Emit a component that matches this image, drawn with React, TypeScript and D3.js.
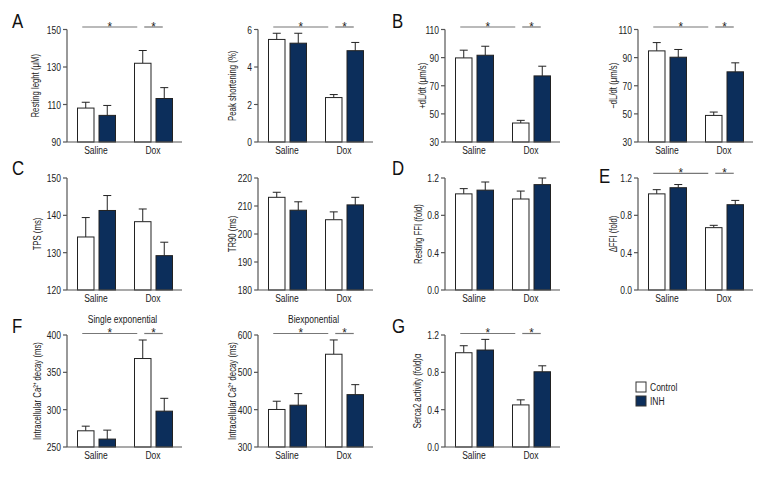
import React from "react";
import * as d3 from "d3";

const groups = ["Saline", "Dox"];
const seriesNames = ["Control", "INH"];

// values: [Saline, Dox]
const restLenCtrl = [108.1, 132.0];
const restLenCtrlErr = [3.1, 6.8];
const restLenInh = [104.2, 113.2];
const restLenInhErr = [5.3, 5.8];

const peakCtrl = [5.47, 2.37];
const peakCtrlErr = [0.33, 0.16];
const peakInh = [5.27, 4.87];
const peakInhErr = [0.53, 0.44];

const plusDlCtrl = [89.8, 43.5];
const plusDlCtrlErr = [5.5, 1.9];
const plusDlInh = [91.7, 77.0];
const plusDlInhErr = [6.4, 6.9];

const minusDlCtrl = [94.8, 48.9];
const minusDlCtrlErr = [5.9, 2.4];
const minusDlInh = [90.3, 79.9];
const minusDlInhErr = [5.5, 6.4];

const tpsCtrl = [134.2, 138.3];
const tpsCtrlErr = [5.2, 3.4];
const tpsInh = [141.3, 129.2];
const tpsInhErr = [4.0, 3.6];

const tr90Ctrl = [213.1, 205.1];
const tr90CtrlErr = [1.8, 2.8];
const tr90Inh = [208.5, 210.4];
const tr90InhErr = [3.0, 2.7];

const restFfiCtrl = [1.03, 0.975];
const restFfiCtrlErr = [0.056, 0.085];
const restFfiInh = [1.07, 1.129];
const restFfiInhErr = [0.087, 0.071];

const dFfiCtrl = [1.03, 0.668];
const dFfiCtrlErr = [0.045, 0.025];
const dFfiInh = [1.096, 0.914];
const dFfiInhErr = [0.034, 0.046];

const singleCtrl = [271.7, 368.5];
const singleCtrlErr = [6.2, 24.8];
const singleInh = [260.6, 298.0];
const singleInhErr = [12.0, 17.2];

const biCtrl = [400.5, 548.5];
const biCtrlErr = [22.1, 38.2];
const biInh = [412.0, 440.3];
const biInhErr = [31.0, 26.7];

const sercaCtrl = [1.01, 0.451];
const sercaCtrlErr = [0.075, 0.054];
const sercaInh = [1.039, 0.806];
const sercaInhErr = [0.114, 0.064];

const ticksRestLen = [90, 110, 130, 150];
const ticksPeak = [0, 2, 4, 6];
const ticksDl = [30, 50, 70, 90, 110];
const ticksTps = [120, 130, 140, 150];
const ticksTr90 = [180, 190, 200, 210, 220];
const ticksFold = [0, 0.4, 0.8, 1.2];
const ticksSingle = [250, 300, 350, 400];
const ticksBi = [300, 400, 500, 600];

const NAVY = "#0c2e5b";
const FONT = "'Liberation Sans', Arial, sans-serif";
const TEXT = "#222";
const AXIS = "#555";
const SX = 0.74;

const colX = [67, 258, 445, 638];
const rowY = [
  [29.5, 142],
  [178, 290],
  [335, 447],
];

type PanelDef = {
  ylabel: string;
  ctrl: number[];
  ctrlErr: number[];
  inh: number[];
  inhErr: number[];
  ticks: number[];
  fmt: (v: number) => string;
  col: number;
  row: number;
  sig: boolean;
  sigDy: number;
  labelDx: number;
  title?: string;
};

const f0 = (v: number) => d3.format("d")(v);
const f1 = (v: number) => d3.format(".1f")(v);

const panels: PanelDef[] = [
  { ylabel: "Resting leght (\u03bcM)", ctrl: restLenCtrl, ctrlErr: restLenCtrlErr, inh: restLenInh, inhErr: restLenInhErr, ticks: ticksRestLen, fmt: f0, col: 0, row: 0, sig: true, sigDy: 2.5, labelDx: 32 },
  { ylabel: "Peak shortening (%)", ctrl: peakCtrl, ctrlErr: peakCtrlErr, inh: peakInh, inhErr: peakInhErr, ticks: ticksPeak, fmt: f0, col: 1, row: 0, sig: true, sigDy: 2.5, labelDx: 26 },
  { ylabel: "+dL/dt (\u03bcm/s)", ctrl: plusDlCtrl, ctrlErr: plusDlCtrlErr, inh: plusDlInh, inhErr: plusDlInhErr, ticks: ticksDl, fmt: f0, col: 2, row: 0, sig: true, sigDy: 2.5, labelDx: 23 },
  { ylabel: "\u2212dL/dt (\u03bcm/s)", ctrl: minusDlCtrl, ctrlErr: minusDlCtrlErr, inh: minusDlInh, inhErr: minusDlInhErr, ticks: ticksDl, fmt: f0, col: 3, row: 0, sig: true, sigDy: 2.5, labelDx: 25 },
  { ylabel: "TPS (ms)", ctrl: tpsCtrl, ctrlErr: tpsCtrlErr, inh: tpsInh, inhErr: tpsInhErr, ticks: ticksTps, fmt: f0, col: 0, row: 1, sig: false, sigDy: 0, labelDx: 30 },
  { ylabel: "TR90 (ms)", ctrl: tr90Ctrl, ctrlErr: tr90CtrlErr, inh: tr90Inh, inhErr: tr90InhErr, ticks: ticksTr90, fmt: f0, col: 1, row: 1, sig: false, sigDy: 0, labelDx: 26 },
  { ylabel: "Resting FFI (fold)", ctrl: restFfiCtrl, ctrlErr: restFfiCtrlErr, inh: restFfiInh, inhErr: restFfiInhErr, ticks: ticksFold, fmt: f1, col: 2, row: 1, sig: false, sigDy: 0, labelDx: 27 },
  { ylabel: "\u0394FFI (fold)", ctrl: dFfiCtrl, ctrlErr: dFfiCtrlErr, inh: dFfiInh, inhErr: dFfiInhErr, ticks: ticksFold, fmt: f1, col: 3, row: 1, sig: true, sigDy: 4.7, labelDx: 25 },
  { ylabel: "Intracellular Ca\u00b2\u207a decay (ms)", ctrl: singleCtrl, ctrlErr: singleCtrlErr, inh: singleInh, inhErr: singleInhErr, ticks: ticksSingle, fmt: f0, col: 0, row: 2, sig: true, sigDy: 1.5, labelDx: 30, title: "Single exponential" },
  { ylabel: "Intracellular Ca\u00b2\u207a decay (ms)", ctrl: biCtrl, ctrlErr: biCtrlErr, inh: biInh, inhErr: biInhErr, ticks: ticksBi, fmt: f0, col: 1, row: 2, sig: true, sigDy: 1.5, labelDx: 25.5, title: "Biexponential" },
  { ylabel: "Serca2 activity (fold)\u03b1", ctrl: sercaCtrl, ctrlErr: sercaCtrlErr, inh: sercaInh, inhErr: sercaInhErr, ticks: ticksFold, fmt: f1, col: 2, row: 2, sig: true, sigDy: 1.5, labelDx: 28 },
];

const letters = [
  { t: "A", x: 12, y: 28 },
  { t: "B", x: 392, y: 28 },
  { t: "C", x: 12, y: 175 },
  { t: "D", x: 392, y: 175 },
  { t: "E", x: 599, y: 183 },
  { t: "F", x: 12, y: 333 },
  { t: "G", x: 392, y: 333 },
];

function T({
  x,
  y,
  size,
  anchor = "start",
  rotate = 0,
  dy,
  fill = TEXT,
  sx = SX,
  children,
}: {
  x: number;
  y: number;
  size: number;
  anchor?: string;
  rotate?: number;
  dy?: string;
  fill?: string;
  sx?: number;
  children: React.ReactNode;
}) {
  return (
    <text
      transform={`translate(${x},${y}) rotate(${rotate}) scale(${sx},1)`}
      textAnchor={anchor}
      dy={dy}
      fontSize={size}
      fill={fill}
    >
      {children}
    </text>
  );
}

function Panel({ p }: { p: PanelDef }) {
  const ax = colX[p.col];
  const [top, bottom] = rowY[p.row];
  const x0 = d3.scaleBand<string>().domain(groups).range([ax + 1, ax + 115]);
  const x1 = d3.scaleBand<string>().domain(seriesNames).range([9.5, 47.5]).paddingInner(0.233);
  const bw = x1.bandwidth();
  const ext = d3.extent(p.ticks) as [number, number];
  const y = d3.scaleLinear().domain(ext).range([bottom, top]);
  const bars: { g: string; s: string; v: number; e: number }[] = [];
  groups.forEach((g, i) => {
    bars.push({ g, s: "Control", v: p.ctrl[i], e: p.ctrlErr[i] });
    bars.push({ g, s: "INH", v: p.inh[i], e: p.inhErr[i] });
  });
  const center = (g: string, s: string) => (x0(g) as number) + (x1(s) as number) + bw / 2;
  const cS = center("Saline", "Control");
  const cD = center("Dox", "Control");
  const iD = center("Dox", "INH");
  const sigY = top - p.sigDy;
  const midY = (top + bottom) / 2;
  return (
    <g>
      {bars.map((b, i) => {
        const cx = center(b.g, b.s);
        return (
          <g key={i}>
            <line x1={cx} x2={cx} y1={y(b.v)} y2={y(b.v + b.e)} stroke="#222" strokeWidth={1} />
            <line x1={cx - 4} x2={cx + 4} y1={y(b.v + b.e)} y2={y(b.v + b.e)} stroke="#222" strokeWidth={1} />
            <rect
              x={(x0(b.g) as number) + (x1(b.s) as number)}
              y={y(b.v)}
              width={bw}
              height={bottom - y(b.v)}
              fill={b.s === "Control" ? "#fff" : NAVY}
              stroke="#222"
              strokeWidth={1}
            />
          </g>
        );
      })}
      <line x1={ax} x2={ax} y1={top} y2={bottom} stroke={AXIS} strokeWidth={1.2} />
      <line x1={ax} x2={ax + 115} y1={bottom} y2={bottom} stroke={AXIS} strokeWidth={1.2} />
      {p.ticks.map((t) => (
        <g key={t}>
          <line x1={ax - 4} x2={ax} y1={y(t)} y2={y(t)} stroke={AXIS} strokeWidth={1.2} />
          <T x={ax - 6} y={y(t)} dy="0.35em" anchor="end" size={11.5}>
            {p.fmt(t)}
          </T>
        </g>
      ))}
      {groups.map((g) => (
        <T key={g} x={(x0(g) as number) + x0.bandwidth() / 2 - 0.5} y={bottom + 11.5} anchor="middle" size={11.5}>
          {g}
        </T>
      ))}
      <T x={ax - p.labelDx} y={midY} rotate={-90} anchor="middle" dy="0.35em" size={10.5}>
        {p.ylabel}
      </T>
      {p.sig && (
        <g>
          <line x1={cS - 3.5} x2={cD - 5.5} y1={sigY} y2={sigY} stroke="#777" strokeWidth={1.2} />
          <line x1={cD + 1.5} x2={iD - 1.5} y1={sigY} y2={sigY} stroke="#777" strokeWidth={1.2} />
          <T x={(cS - 3.5 + cD - 5.5) / 2} y={sigY + 3.5} anchor="middle" size={13} sx={0.9}>*</T>
          <T x={(cD + iD) / 2} y={sigY + 3.5} anchor="middle" size={13} sx={0.9}>*</T>
        </g>
      )}
      {p.title && (
        <T x={ax + 55.5} y={top - 12} anchor="middle" size={11.5}>
          {p.title}
        </T>
      )}
    </g>
  );
}

export default function App() {
  return (
    <svg
      width={780}
      height={480}
      style={{ position: "absolute", left: 0, top: 0, background: "#fff" }}
      fontFamily={FONT}
    >
      <rect x={0} y={0} width={780} height={480} fill="#fff" />
      {panels.map((p, i) => (
        <Panel key={i} p={p} />
      ))}
      {letters.map((l) => (
        <T key={l.t} x={l.x} y={l.y} size={21} fill="#111" sx={0.8}>
          {l.t}
        </T>
      ))}
      <g>
        {seriesNames.map((s, i) => (
          <g key={s}>
            <rect x={636} y={382 + i * 14} width={10} height={10} fill={s === "Control" ? "#fff" : NAVY} stroke="#333" strokeWidth={1} />
            <T x={650} y={387 + i * 14} dy="0.35em" size={11.5}>
              {s}
            </T>
          </g>
        ))}
      </g>
    </svg>
  );
}
